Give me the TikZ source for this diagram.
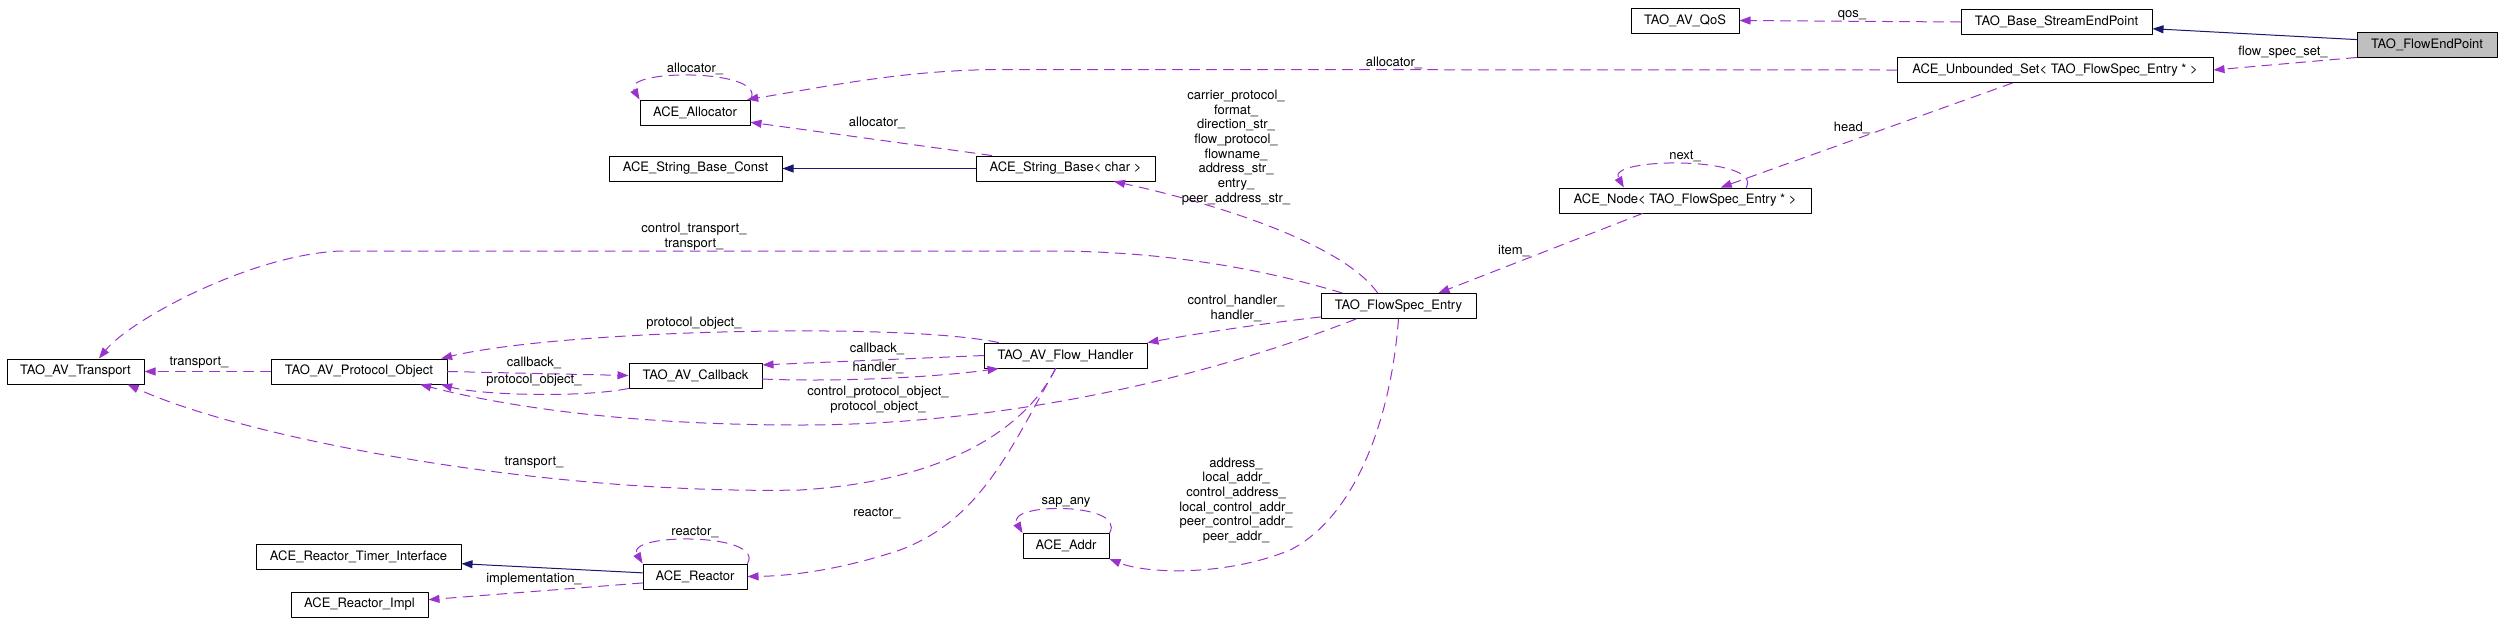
\documentclass[tikz,border=0pt]{standalone}
\usepackage{fontspec}
\setmainfont{TeX Gyre Heros}
\usepackage{tikz}
\usetikzlibrary{arrows.meta}
\definecolor{edgepurple}{HTML}{9A32CD}
\definecolor{edgeblue}{HTML}{191970}
\definecolor{boxgray}{HTML}{BFBFBF}

\begin{document}
\begin{tikzpicture}[line cap=round,line join=round,>={Triangle[length=11pt,width=8pt]},x=1pt,y=-1pt,
    cls/.style={draw=black,fill=white,line width=1pt,minimum height=25pt,inner sep=0pt,font=\fontsize{13}{14.7}\selectfont},
    lbl/.style={inner sep=0pt,align=center,font=\fontsize{13}{14.7}\selectfont},
    member/.style={->,color=edgepurple,line width=1pt,dash pattern=on 10pt off 7pt},
    inherit/.style={->,color=edgeblue,line width=1pt}]
      \useasboundingbox (0,0) rectangle (2501,633);
      \node[cls,fill=boxgray,minimum width=140pt] (flowep) at (2427,44.5) {TAO\_FlowEndPoint};
      \node[cls,minimum width=191pt] (basesep) at (2056.5,22) {TAO\_Base\_StreamEndPoint};
      \node[cls,minimum width=108pt] (qos) at (1685,20.5) {TAO\_AV\_QoS};
      \node[cls,minimum width=316pt] (uset) at (2055,70) {ACE\_Unbounded\_Set< TAO\_FlowSpec\_Entry * >};
      \node[cls,minimum width=110pt] (alloc) at (695,112.5) {ACE\_Allocator};
      \node[cls,minimum width=173pt] (strconst) at (695.5,168.5) {ACE\_String\_Base\_Const};
      \node[cls,minimum width=179pt] (strbase) at (1065.5,168.5) {ACE\_String\_Base< char >};
      \node[cls,minimum width=252pt] (anode) at (1685,200.5) {ACE\_Node< TAO\_FlowSpec\_Entry * >};
      \node[cls,minimum width=155pt] (fspec) at (1398.5,306) {TAO\_FlowSpec\_Entry};
      \node[cls,minimum width=137pt] (transp) at (75.5,371.5) {TAO\_AV\_Transport};
      \node[cls,minimum width=176pt] (protobj) at (359,371.5) {TAO\_AV\_Protocol\_Object};
      \node[cls,minimum width=133pt] (callbk) at (695.5,375.5) {TAO\_AV\_Callback};
      \node[cls,minimum width=163pt] (fhandler) at (1065.5,355.5) {TAO\_AV\_Flow\_Handler};
      \node[cls,minimum width=205pt] (rtimer) at (358.5,556.5) {ACE\_Reactor\_Timer\_Interface};
      \node[cls,minimum width=104pt] (reactor) at (695,576.5) {ACE\_Reactor};
      \node[cls,minimum width=137pt] (rimpl) at (359.5,604.5) {ACE\_Reactor\_Impl};
      \node[cls,minimum width=86pt] (addr) at (1066,546) {ACE\_Addr};

      \draw[inherit] (flowep.176) -- (basesep.-4);
      \draw[member] (flowep.south west) -- (uset.east);
      \draw[member] (basesep.west) -- (qos.east);
      \draw[member] (uset.west) -- (1000,69.5) .. controls (900,70) and (820,88) .. (alloc.14);
      \draw[member] (uset.-163) -- (anode.20);
      \draw[member] (anode.-163) -- (fspec.18);
      \draw[inherit] (strbase.west) -- (strconst.east);
      \draw[member] (strbase.170) -- (alloc.-10);
      \draw[member] (fspec.148) .. controls (1340,240) and (1200,200) .. (strbase.-15);
      \draw[member] (fspec.167) .. controls (1250,265) and (1150,251) .. (1050,251) -- (340,251) .. controls (250,255) and (130,320) .. (transp.29);
      \draw[member] (fspec.-172) .. controls (1250,325) and (1190,335) .. (fhandler.north east);
      \draw[member] (fspec.-163) .. controls (1200,380) and (1000,425) .. (800,425) .. controls (600,425) and (480,400) .. (protobj.-12);
      \draw[member] (fspec.south) .. controls (1390,430) and (1350,520) .. (1290,550) .. controls (1230,575) and (1150,575) .. (addr.south east);
      \draw[member] (fhandler.169) .. controls (900,322) and (560,330) .. (protobj.9.5);
      \draw[member] (fhandler.west) -- (callbk.9);
      \draw[member] (callbk.-3) .. controls (830,382) and (930,378) .. (fhandler.-169);
      \draw[member] (protobj.east) -- (callbk.west);
      \draw[member] (callbk.south west) .. controls (580,398) and (480,395) .. (protobj.-9.5);
      \draw[member] (protobj.west) -- (transp.east);
      \draw[member] (fhandler.-127) .. controls (1030,420) and (960,480) .. (800,490) .. controls (550,495) and (250,440) .. (transp.-14);
      \draw[member] (fhandler.-127) .. controls (1010,450) and (980,520) .. (900,550) .. controls (840,570) and (790,576) .. (reactor.east);
      \draw[inherit] (reactor.176) -- (rtimer.-4);
      \draw[member] (reactor.-173) -- (rimpl.4);
      \foreach \n/\a/\b/\t in {alloc/north east/north west/allocator\_,reactor/north east/north west/reactor\_,addr/north east/north west/sap\_any,anode/12/168/next\_}
      {
      \draw[member] (\n.\a) .. controls +(18,-31) and +(-18,-31) .. (\n.\b);
      \node[lbl] (\n-loop) at ([yshift=31pt]\n.north) {\t};
      }

      \node[lbl] (lqos) at (1852,15) {qos\_};
      \node[lbl] (lfss) at (2283,52) {flow\_spec\_set\_};
      \node[lbl] (lalloc) at (1394,63) {allocator\_};
      \node[lbl] (lhead) at (1852,128) {head\_};
      \node[lbl] (litem) at (1514,251) {item\_};
      \node[lbl] (lstr) at (877,123) {allocator\_};
      \node[lbl] (lstrings) at (1236,147.5) {carrier\_protocol\_\\format\_\\direction\_str\_\\flow\_protocol\_\\flowname\_\\address\_str\_\\entry\_\\peer\_address\_str\_};
      \node[lbl] (ltransp) at (694,236.5) {control\_transport\_\\transport\_};
      \node[lbl] (lhandler) at (1236,308.5) {control\_handler\_\\handler\_};
      \node[lbl] (lproto) at (878,399.5) {control\_protocol\_object\_\\protocol\_object\_};
      \node[lbl] (laddr) at (1236,500.5) {address\_\\local\_addr\_\\control\_address\_\\local\_control\_addr\_\\peer\_control\_addr\_\\peer\_addr\_};
      \node[lbl] (lpo) at (694,323) {protocol\_object\_};
      \node[lbl] (lcb1) at (877,349) {callback\_};
      \node[lbl] (lh1) at (878,368) {handler\_};
      \node[lbl] (lcb2) at (534,363) {callback\_};
      \node[lbl] (lpo2) at (534,380) {protocol\_object\_};
      \node[lbl] (ltr1) at (199,363) {transport\_};
      \node[lbl] (ltr2) at (534,463) {transport\_};
      \node[lbl] (lreact) at (877,513) {reactor\_};
      \node[lbl] (limpl) at (534,579) {implementation\_};
    \end{tikzpicture}
\end{document}
